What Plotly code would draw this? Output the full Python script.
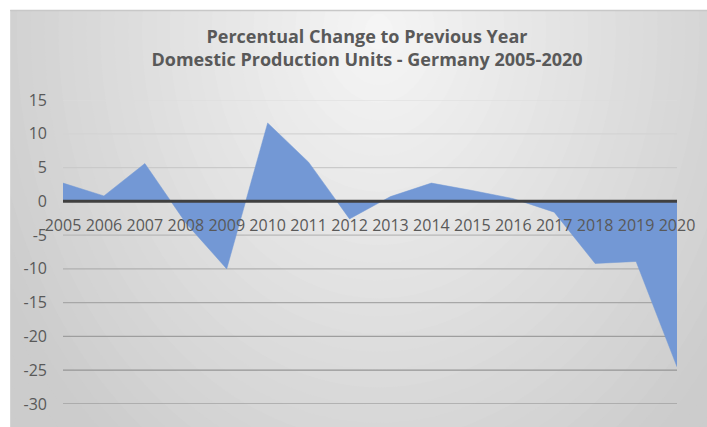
import plotly.graph_objects as go

# Year-on-year change in domestic production units (%)
years = list(range(2005, 2021))
change_pct = [2.7, 0.8, 5.6, -3.2, -10.0, 11.6, 5.8, -2.6, 0.7, 2.7, 1.6, 0.4, -1.6, -9.2, -8.9, -24.5]
y_ticks = [15, 10, 5, 0, -5, -10, -15, -20, -25, -30]
y_tick_text = [str(v) for v in y_ticks]  # plain hyphen for negatives

title_lines = ["Percentual Change to Previous Year", "Domestic Production Units - Germany 2005-2020"]

W, H = 707, 427
M_L, M_R, M_T, M_B = 63, 28, 100, 16
PW, PH = W - M_L - M_R, H - M_T - M_B


def px_to_paper(x, y):
    return (x - M_L) / PW, (H - M_B - y) / PH


def grey(v):
    v = int(round(v))
    return f"rgb({v},{v},{v})"


shapes = []

# soft elliptical gradient on the chart panel
cx, cy = 380, 30
rx, ry = 430, 560
light, dark = 246, 204
steps = 40
x0, y0 = px_to_paper(-20, -20)
x1, y1 = px_to_paper(W + 20, H + 20)
shapes.append(dict(type="rect", xref="paper", yref="paper", x0=x0, x1=x1, y0=y1, y1=y0,
                   fillcolor=grey(dark), line_width=0, layer="below"))
for i in range(steps):
    t = 1.3 * (1 - i / steps)
    ex0, ey0 = px_to_paper(cx - rx * t, cy - ry * t)
    ex1, ey1 = px_to_paper(cx + rx * t, cy + ry * t)
    c = dark + (light - dark) * (1 - min(t, 1.0))
    shapes.append(dict(type="circle", xref="paper", yref="paper", x0=ex0, x1=ex1, y0=ey1, y1=ey0,
                       fillcolor=grey(c), line_width=0, layer="below"))

# white page strip left of and above the panel
for (a, b, c_, d) in [(-20, -20, 10, H + 20), (-20, -20, W + 20, 8)]:
    p0 = px_to_paper(a, b)
    p1 = px_to_paper(c_, d)
    shapes.append(dict(type="rect", xref="paper", yref="paper", x0=p0[0], x1=p1[0], y0=p1[1], y1=p0[1],
                       fillcolor="white", line_width=0, layer="below"))
pt0 = px_to_paper(10, 8.5)
pt1 = px_to_paper(W + 20, 8.5)
shapes.append(dict(type="line", xref="paper", yref="paper", x0=pt0[0], x1=pt1[0], y0=pt0[1], y1=pt1[1],
                   line=dict(color="rgb(200,200,200)", width=1.5), layer="below"))

# horizontal gridlines, darkening toward the bottom
for v in y_ticks:
    if v == 0:
        continue
    f = (15 - v) / 45
    shapes.append(dict(type="line", xref="paper", yref="y", x0=0, x1=1, y0=v, y1=v,
                       line=dict(color=grey(220 - 80 * f), width=1.2), layer="between"))

# heavy baseline at zero
shapes.append(dict(type="line", xref="paper", yref="y", x0=0, x1=1, y0=0, y1=0,
                   line=dict(color="rgb(64,64,64)", width=3), layer="above"))

fig = go.Figure()
fig.add_trace(go.Scatter(
    x=years, y=change_pct, mode="lines", fill="tozeroy",
    fillcolor="rgb(115,152,213)", line=dict(color="rgb(115,152,213)", width=0.5),
    hoverinfo="x+y", showlegend=False,
))

tick_font = dict(family="Open Sans, Lato, sans-serif", size=16, color="#595959")

fig.update_layout(
    width=W, height=H,
    margin=dict(l=M_L, r=M_R, t=M_T, b=M_B, pad=0),
    paper_bgcolor="white",
    plot_bgcolor="rgba(0,0,0,0)",
    shapes=shapes,
    title=dict(
        text="<br>".join(title_lines),
        x=367 / W, xref="container", xanchor="center",
        y=1 - 43 / H, yref="container", yanchor="middle",
        font=dict(family="Open Sans, Lato, sans-serif", size=18, color="#595959", weight="bold"),
    ),
    xaxis=dict(
        range=[2005, 2020], tickvals=years, ticktext=[str(y) for y in years],
        showgrid=False, zeroline=False, showline=False, ticks="",
        anchor="free", position=30 / 45, tickfont=tick_font, ticklabelstandoff=13,
    ),
    yaxis=dict(
        range=[-30, 15], tickvals=y_ticks, ticktext=y_tick_text,
        showgrid=False, zeroline=False, showline=False,
        ticks="", tickfont=tick_font, ticklabelstandoff=15,
    ),
)

fig.write_html("out.html")
